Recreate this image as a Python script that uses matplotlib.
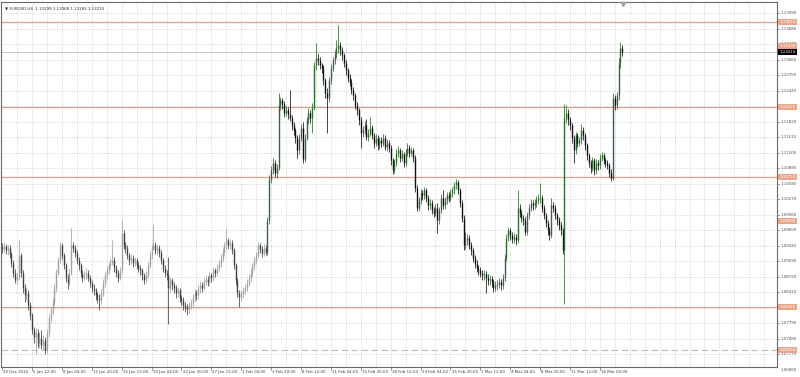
import matplotlib
matplotlib.use("Agg")
import matplotlib.pyplot as plt
from matplotlib.collections import LineCollection
import matplotlib.transforms as mtrans

symbol_title = "EURUSD,H4  1.13299 1.13368 1.13183 1.13210"

opens = [
 1.0932, 1.0928, 1.0933, 1.0926, 1.0930, 1.0918, 1.0900, 1.0880, 1.0866, 1.0872,
 1.0915, 1.0880, 1.0850, 1.0835, 1.0840, 1.0815, 1.0795, 1.0765, 1.0752, 1.0760,
 1.0740, 1.0750, 1.0735, 1.0745, 1.0725, 1.0760, 1.0790, 1.0805, 1.0820, 1.0850,
 1.0880, 1.0905, 1.0935, 1.0915, 1.0895, 1.0870, 1.0860, 1.0880, 1.0935, 1.0930,
 1.0920, 1.0905, 1.0895, 1.0880, 1.0870, 1.0875, 1.0880, 1.0870, 1.0860, 1.0850,
 1.0845, 1.0835, 1.0830, 1.0825, 1.0840, 1.0860, 1.0875, 1.0885, 1.0895, 1.0900,
 1.0905, 1.0890, 1.0880, 1.0870, 1.0885, 1.0960, 1.0935, 1.0930, 1.0915, 1.0905,
 1.0910, 1.0900, 1.0905, 1.0895, 1.0890, 1.0885, 1.0875, 1.0865, 1.0875, 1.0895,
 1.0915, 1.0930, 1.0935, 1.0925, 1.0930, 1.0920, 1.0905, 1.0890, 1.0880, 1.0875,
 1.0850, 1.0865, 1.0855, 1.0850, 1.0840, 1.0845, 1.0830, 1.0825, 1.0815, 1.0812,
 1.0808, 1.0815, 1.0820, 1.0830, 1.0840, 1.0835, 1.0848, 1.0855, 1.0850, 1.0862,
 1.0868, 1.0862, 1.0875, 1.0870, 1.0885, 1.0880, 1.0890, 1.0898, 1.0910, 1.0922,
 1.0935, 1.0945, 1.0935, 1.0940, 1.0925, 1.0895, 1.0865, 1.0840, 1.0832, 1.0838,
 1.0845, 1.0850, 1.0860, 1.0870, 1.0880, 1.0893, 1.0905, 1.0915, 1.0935, 1.0928,
 1.0920, 1.0930, 1.0922, 1.0985, 1.1068, 1.1085, 1.1100, 1.1080, 1.1090, 1.1215,
 1.1225, 1.1218, 1.1200, 1.1205, 1.1198, 1.1190, 1.1175, 1.1165, 1.1150, 1.1125,
 1.1150, 1.1170, 1.1108, 1.1150, 1.1185, 1.1200, 1.1190, 1.1210, 1.1295, 1.1310,
 1.1305, 1.1295, 1.1290, 1.1265, 1.1240, 1.1230, 1.1265, 1.1290, 1.1305, 1.1318,
 1.1330, 1.1335, 1.1325, 1.1315, 1.1300, 1.1285, 1.1270, 1.1262, 1.1245, 1.1235,
 1.1215, 1.1205, 1.1185, 1.1160, 1.1165, 1.1175, 1.1152, 1.1160, 1.1170, 1.1155,
 1.1140, 1.1150, 1.1135, 1.1145, 1.1140, 1.1150, 1.1132, 1.1140, 1.1130, 1.1105,
 1.1085, 1.1100, 1.1120, 1.1125, 1.1110, 1.1118, 1.1100, 1.1120, 1.1130, 1.1120,
 1.1125, 1.1110, 1.1050, 1.1010, 1.1025, 1.1040, 1.1035, 1.1045, 1.1030, 1.1015,
 1.1020, 1.1005, 1.1000, 1.1010, 1.0985, 1.1005, 1.1030, 1.1015, 1.1025, 1.1035,
 1.1030, 1.1040, 1.1045, 1.1055, 1.1062, 1.1045, 1.1020, 1.0990, 1.0935, 1.0945,
 1.0950, 1.0935, 1.0925, 1.0910, 1.0898, 1.0890, 1.0885, 1.0880, 1.0875, 1.0878,
 1.0870, 1.0865, 1.0868, 1.0862, 1.0850, 1.0855, 1.0858, 1.0862, 1.0855, 1.0870,
 1.0910, 1.0950, 1.0965, 1.0955, 1.0948, 1.0952, 1.0945, 1.1010, 1.1000, 1.0990,
 1.0985, 1.0962, 1.0995, 1.1010, 1.1020, 1.1015, 1.1020, 1.1025, 1.1030, 1.1030,
 1.1010, 1.0995, 1.0980, 1.0965, 1.0955, 1.1015, 1.1010, 1.0995, 1.0985, 1.0975,
 1.0965, 1.0925, 1.1190, 1.1200, 1.1185, 1.1175, 1.1150, 1.1125, 1.1155, 1.1140,
 1.1145, 1.1165, 1.1155, 1.1135, 1.1115, 1.1100, 1.1090, 1.1105, 1.1085, 1.1100,
 1.1095, 1.1110, 1.1115, 1.1105, 1.1100, 1.1095, 1.1080, 1.1070, 1.1230, 1.1215,
 1.1235, 1.1300, 1.1330,
]

closes = [
 1.0928, 1.0933, 1.0926, 1.0930, 1.0918, 1.0900, 1.0880, 1.0866, 1.0872, 1.0915,
 1.0880, 1.0850, 1.0835, 1.0840, 1.0815, 1.0795, 1.0765, 1.0752, 1.0760, 1.0740,
 1.0750, 1.0735, 1.0745, 1.0725, 1.0760, 1.0790, 1.0805, 1.0820, 1.0850, 1.0880,
 1.0905, 1.0935, 1.0915, 1.0895, 1.0870, 1.0860, 1.0880, 1.0935, 1.0930, 1.0920,
 1.0905, 1.0895, 1.0880, 1.0870, 1.0875, 1.0880, 1.0870, 1.0860, 1.0850, 1.0845,
 1.0835, 1.0830, 1.0825, 1.0840, 1.0860, 1.0875, 1.0885, 1.0895, 1.0900, 1.0905,
 1.0890, 1.0880, 1.0870, 1.0885, 1.0960, 1.0935, 1.0930, 1.0915, 1.0905, 1.0910,
 1.0900, 1.0905, 1.0895, 1.0890, 1.0885, 1.0875, 1.0865, 1.0875, 1.0895, 1.0915,
 1.0930, 1.0935, 1.0925, 1.0930, 1.0920, 1.0905, 1.0890, 1.0880, 1.0875, 1.0850,
 1.0865, 1.0855, 1.0850, 1.0840, 1.0845, 1.0830, 1.0825, 1.0815, 1.0812, 1.0808,
 1.0815, 1.0820, 1.0830, 1.0840, 1.0835, 1.0848, 1.0855, 1.0850, 1.0862, 1.0868,
 1.0862, 1.0875, 1.0870, 1.0885, 1.0880, 1.0890, 1.0898, 1.0910, 1.0922, 1.0935,
 1.0945, 1.0935, 1.0940, 1.0925, 1.0895, 1.0865, 1.0840, 1.0832, 1.0838, 1.0845,
 1.0850, 1.0860, 1.0870, 1.0880, 1.0893, 1.0905, 1.0915, 1.0935, 1.0928, 1.0920,
 1.0930, 1.0922, 1.0985, 1.1068, 1.1085, 1.1100, 1.1080, 1.1090, 1.1215, 1.1225,
 1.1218, 1.1200, 1.1205, 1.1198, 1.1190, 1.1175, 1.1165, 1.1150, 1.1125, 1.1150,
 1.1170, 1.1108, 1.1150, 1.1185, 1.1200, 1.1190, 1.1210, 1.1295, 1.1310, 1.1305,
 1.1295, 1.1290, 1.1265, 1.1240, 1.1230, 1.1265, 1.1290, 1.1305, 1.1318, 1.1330,
 1.1335, 1.1325, 1.1315, 1.1300, 1.1285, 1.1270, 1.1262, 1.1245, 1.1235, 1.1215,
 1.1205, 1.1185, 1.1160, 1.1165, 1.1175, 1.1152, 1.1160, 1.1170, 1.1155, 1.1140,
 1.1150, 1.1135, 1.1145, 1.1140, 1.1150, 1.1132, 1.1140, 1.1130, 1.1105, 1.1085,
 1.1100, 1.1120, 1.1125, 1.1110, 1.1118, 1.1100, 1.1120, 1.1130, 1.1120, 1.1125,
 1.1110, 1.1050, 1.1010, 1.1025, 1.1040, 1.1035, 1.1045, 1.1030, 1.1015, 1.1020,
 1.1005, 1.1000, 1.1010, 1.0985, 1.1005, 1.1030, 1.1015, 1.1025, 1.1035, 1.1030,
 1.1040, 1.1045, 1.1055, 1.1062, 1.1045, 1.1020, 1.0990, 1.0935, 1.0945, 1.0950,
 1.0935, 1.0925, 1.0910, 1.0898, 1.0890, 1.0885, 1.0880, 1.0875, 1.0878, 1.0870,
 1.0865, 1.0868, 1.0862, 1.0850, 1.0855, 1.0858, 1.0862, 1.0855, 1.0870, 1.0910,
 1.0950, 1.0965, 1.0955, 1.0948, 1.0952, 1.0945, 1.1010, 1.1000, 1.0990, 1.0985,
 1.0962, 1.0995, 1.1010, 1.1020, 1.1015, 1.1020, 1.1025, 1.1030, 1.1030, 1.1010,
 1.0995, 1.0980, 1.0965, 1.0955, 1.1015, 1.1010, 1.0995, 1.0985, 1.0975, 1.0965,
 1.0925, 1.1190, 1.1200, 1.1185, 1.1175, 1.1150, 1.1125, 1.1155, 1.1140, 1.1145,
 1.1165, 1.1155, 1.1135, 1.1115, 1.1100, 1.1090, 1.1105, 1.1085, 1.1100, 1.1095,
 1.1110, 1.1115, 1.1105, 1.1100, 1.1095, 1.1080, 1.1070, 1.1230, 1.1215, 1.1235,
 1.1300, 1.1330, 1.1321,
]

highs = [
 1.0940, 1.0941, 1.0938, 1.0936, 1.0935, 1.0922, 1.0906, 1.0888, 1.0880, 1.0945,
 1.0920, 1.0886, 1.0858, 1.0852, 1.0846, 1.0822, 1.0800, 1.0772, 1.0770, 1.0768,
 1.0762, 1.0765, 1.0755, 1.0752, 1.0768, 1.0798, 1.0812, 1.0830, 1.0858, 1.0888,
 1.0912, 1.0942, 1.0940, 1.0920, 1.0900, 1.0878, 1.0888, 1.0970, 1.0942, 1.0936,
 1.0925, 1.0912, 1.0900, 1.0886, 1.0884, 1.0890, 1.0885, 1.0876, 1.0866, 1.0858,
 1.0850, 1.0842, 1.0838, 1.0848, 1.0868, 1.0882, 1.0894, 1.0902, 1.0910, 1.0945,
 1.0912, 1.0896, 1.0886, 1.0892, 1.0985, 1.0966, 1.0942, 1.0936, 1.0920, 1.0918,
 1.0916, 1.0912, 1.0910, 1.0902, 1.0896, 1.0890, 1.0880, 1.0884, 1.0902, 1.0924,
 1.0938, 1.0978, 1.0942, 1.0938, 1.0935, 1.0926, 1.0910, 1.0896, 1.0886, 1.0912,
 1.0872, 1.0870, 1.0862, 1.0856, 1.0852, 1.0850, 1.0836, 1.0832, 1.0822, 1.0818,
 1.0822, 1.0828, 1.0838, 1.0848, 1.0846, 1.0855, 1.0864, 1.0862, 1.0870, 1.0876,
 1.0874, 1.0882, 1.0880, 1.0892, 1.0890, 1.0898, 1.0906, 1.0918, 1.0930, 1.0942,
 1.0968, 1.0950, 1.0948, 1.0945, 1.0930, 1.0900, 1.0870, 1.0846, 1.0845, 1.0852,
 1.0858, 1.0868, 1.0878, 1.0888, 1.0900, 1.0912, 1.0922, 1.0942, 1.0940, 1.0934,
 1.0938, 1.0936, 1.0992, 1.1075, 1.1094, 1.1110, 1.1106, 1.1098, 1.1240, 1.1232,
 1.1230, 1.1224, 1.1214, 1.1212, 1.1245, 1.1196, 1.1182, 1.1170, 1.1155, 1.1158,
 1.1178, 1.1182, 1.1158, 1.1192, 1.1210, 1.1206, 1.1220, 1.1302, 1.1340, 1.1318,
 1.1312, 1.1300, 1.1295, 1.1270, 1.1250, 1.1272, 1.1298, 1.1312, 1.1326, 1.1345,
 1.1376, 1.1342, 1.1332, 1.1320, 1.1306, 1.1290, 1.1278, 1.1268, 1.1252, 1.1240,
 1.1222, 1.1210, 1.1192, 1.1174, 1.1184, 1.1188, 1.1168, 1.1192, 1.1176, 1.1160,
 1.1158, 1.1156, 1.1152, 1.1152, 1.1158, 1.1155, 1.1148, 1.1146, 1.1135, 1.1110,
 1.1108, 1.1128, 1.1134, 1.1130, 1.1126, 1.1122, 1.1128, 1.1140, 1.1135, 1.1132,
 1.1130, 1.1115, 1.1055, 1.1032, 1.1048, 1.1046, 1.1052, 1.1050, 1.1036, 1.1028,
 1.1026, 1.1012, 1.1018, 1.1020, 1.1012, 1.1038, 1.1045, 1.1032, 1.1042, 1.1042,
 1.1048, 1.1052, 1.1062, 1.1068, 1.1066, 1.1050, 1.1026, 1.0995, 1.0962, 1.0958,
 1.0955, 1.0942, 1.0930, 1.0916, 1.0905, 1.0896, 1.0892, 1.0886, 1.0886, 1.0884,
 1.0878, 1.0876, 1.0874, 1.0868, 1.0864, 1.0866, 1.0870, 1.0868, 1.0878, 1.0918,
 1.0958, 1.0972, 1.0970, 1.0962, 1.0960, 1.0958, 1.1045, 1.1018, 1.1006, 1.0996,
 1.0992, 1.1002, 1.1018, 1.1028, 1.1026, 1.1028, 1.1034, 1.1038, 1.1060, 1.1036,
 1.1016, 1.1000, 1.0986, 1.0972, 1.1030, 1.1022, 1.1016, 1.1000, 1.0992, 1.0982,
 1.0970, 1.1218, 1.1215, 1.1208, 1.1192, 1.1180, 1.1156, 1.1162, 1.1160, 1.1152,
 1.1178, 1.1172, 1.1160, 1.1140, 1.1120, 1.1106, 1.1112, 1.1110, 1.1108, 1.1106,
 1.1118, 1.1122, 1.1120, 1.1110, 1.1106, 1.1100, 1.1088, 1.1240, 1.1236, 1.1242,
 1.1310, 1.1342, 1.1336,
]

lows = [
 1.0920, 1.0922, 1.0918, 1.0915, 1.0910, 1.0892, 1.0872, 1.0860, 1.0858, 1.0865,
 1.0872, 1.0840, 1.0822, 1.0826, 1.0805, 1.0785, 1.0758, 1.0740, 1.0718, 1.0730,
 1.0732, 1.0728, 1.0725, 1.0717, 1.0720, 1.0752, 1.0782, 1.0798, 1.0815, 1.0842,
 1.0875, 1.0900, 1.0908, 1.0888, 1.0862, 1.0848, 1.0855, 1.0875, 1.0922, 1.0912,
 1.0898, 1.0886, 1.0872, 1.0862, 1.0865, 1.0868, 1.0864, 1.0852, 1.0842, 1.0836,
 1.0826, 1.0820, 1.0805, 1.0818, 1.0834, 1.0852, 1.0868, 1.0878, 1.0888, 1.0895,
 1.0882, 1.0872, 1.0862, 1.0865, 1.0880, 1.0928, 1.0920, 1.0908, 1.0896, 1.0898,
 1.0892, 1.0894, 1.0888, 1.0882, 1.0876, 1.0866, 1.0858, 1.0860, 1.0870, 1.0890,
 1.0908, 1.0925, 1.0918, 1.0916, 1.0912, 1.0898, 1.0882, 1.0872, 1.0866, 1.0778,
 1.0842, 1.0846, 1.0840, 1.0830, 1.0832, 1.0822, 1.0815, 1.0806, 1.0802, 1.0795,
 1.0800, 1.0808, 1.0814, 1.0824, 1.0826, 1.0828, 1.0840, 1.0842, 1.0845, 1.0855,
 1.0854, 1.0856, 1.0862, 1.0864, 1.0872, 1.0874, 1.0884, 1.0892, 1.0904, 1.0916,
 1.0928, 1.0928, 1.0928, 1.0918, 1.0888, 1.0856, 1.0832, 1.0811, 1.0824, 1.0830,
 1.0838, 1.0844, 1.0854, 1.0864, 1.0874, 1.0886, 1.0898, 1.0910, 1.0920, 1.0912,
 1.0914, 1.0915, 1.0915, 1.0978, 1.1060, 1.1078, 1.1072, 1.1070, 1.1085, 1.1205,
 1.1208, 1.1192, 1.1194, 1.1188, 1.1184, 1.1166, 1.1156, 1.1140, 1.1110, 1.1118,
 1.1144, 1.1100, 1.1102, 1.1145, 1.1178, 1.1180, 1.1160, 1.1205, 1.1285, 1.1296,
 1.1288, 1.1280, 1.1256, 1.1230, 1.1160, 1.1222, 1.1258, 1.1284, 1.1298, 1.1310,
 1.1320, 1.1316, 1.1306, 1.1292, 1.1276, 1.1262, 1.1254, 1.1238, 1.1226, 1.1208,
 1.1196, 1.1176, 1.1130, 1.1152, 1.1158, 1.1146, 1.1144, 1.1154, 1.1148, 1.1130,
 1.1134, 1.1126, 1.1128, 1.1132, 1.1134, 1.1126, 1.1124, 1.1122, 1.1096, 1.1078,
 1.1080, 1.1094, 1.1112, 1.1102, 1.1104, 1.1092, 1.1094, 1.1114, 1.1112, 1.1114,
 1.1102, 1.1042, 1.1004, 1.1004, 1.1018, 1.1026, 1.1028, 1.1022, 1.1006, 1.1008,
 1.0998, 1.0992, 1.0994, 1.0960, 1.0978, 1.1000, 1.1008, 1.1008, 1.1018, 1.1022,
 1.1024, 1.1032, 1.1038, 1.1048, 1.1038, 1.1012, 1.0982, 1.0925, 1.0928, 1.0936,
 1.0928, 1.0915, 1.0902, 1.0890, 1.0882, 1.0876, 1.0872, 1.0866, 1.0866, 1.0840,
 1.0856, 1.0856, 1.0852, 1.0842, 1.0844, 1.0846, 1.0850, 1.0846, 1.0848, 1.0864,
 1.0904, 1.0944, 1.0946, 1.0940, 1.0940, 1.0936, 1.0940, 1.0992, 1.0982, 1.0976,
 1.0955, 1.0956, 1.0988, 1.1004, 1.1006, 1.1008, 1.1012, 1.1018, 1.1020, 1.1002,
 1.0988, 1.0972, 1.0956, 1.0946, 1.0950, 1.1002, 1.0988, 1.0976, 1.0966, 1.0956,
 1.0918, 1.0818, 1.1180, 1.1176, 1.1166, 1.1140, 1.1100, 1.1118, 1.1132, 1.1134,
 1.1138, 1.1146, 1.1126, 1.1106, 1.1092, 1.1080, 1.1084, 1.1076, 1.1078, 1.1086,
 1.1088, 1.1104, 1.1098, 1.1092, 1.1088, 1.1072, 1.1064, 1.1066, 1.1206, 1.1208,
 1.1225, 1.1290, 1.1314,
]

date_labels = ["30 Dec 2015", "5 Jan 12:00", "8 Jan 04:00", "12 Jan 20:00", "15 Jan 12:00",
               "20 Jan 04:00", "22 Jan 20:00", "27 Jan 12:00", "1 Feb 04:00", "3 Feb 20:00",
               "8 Feb 12:00", "11 Feb 04:00", "15 Feb 20:00", "18 Feb 12:00", "23 Feb 04:00",
               "25 Feb 20:00", "1 Mar 12:00", "4 Mar 04:00", "8 Mar 20:00", "11 Mar 12:00",
               "16 Mar 04:00"]
bars_per_label = 16

price_ticks = [1.13990, 1.13680, 1.13370, 1.13060, 1.12750, 1.12440, 1.12130, 1.11820,
               1.11510, 1.11200, 1.10890, 1.10580, 1.10270, 1.09960, 1.09650, 1.09340,
               1.09030, 1.08720, 1.08410, 1.08100, 1.07790, 1.07480, 1.07170, 1.06860]

level_lines = [1.13810, 1.12110, 1.10710, 1.08110]
level_dashed = [1.07250]
level_label_only = [1.13330, 1.09830]
bid_price = 1.13210

# ---------------------------------------------------------------
W, H = 800, 377
fig = plt.figure(figsize=(W / 100, H / 100), dpi=100)
fig.patch.set_facecolor("white")
ax_l, ax_r, ax_t, ax_b = 1, 777, 2, 367
ax = fig.add_axes([ax_l / W, 1 - ax_b / H, (ax_r - ax_l) / W, (ax_b - ax_t) / H])
ax.set_facecolor("white")

n = len(closes)
xmin, xmax = -0.6, -0.6 + (ax_r - ax_l) / 1.868
ax.set_xlim(xmin, xmax)
ymax = 1.1425 - 0.0002 * ax_t
ymin = 1.1425 - 0.0002 * ax_b
ax.set_ylim(ymin, ymax)

grid_c = "#c4c4c4"
for p in price_ticks:
    if ymin < p < ymax:
        ax.axhline(p, color=grid_c, lw=0.5, ls=(0, (1.5, 2.0)), zorder=1)
half = bars_per_label // 2
k = half
while k < xmax:
    ax.axvline(k, color=grid_c, lw=0.5, ls=(0, (1.5, 2.0)), zorder=1)
    k += half

orange = "#d9a48c"
for p in level_lines:
    ax.axhline(p, color=orange, lw=0.9, zorder=2)
for p in level_dashed:
    ax.axhline(p, color="#c8b8b0", lw=0.8, ls=(0, (6, 3)), zorder=2)
ax.axhline(bid_price, color="#c8c8c8", lw=0.7, zorder=2)

split = 142
wick_segs, wick_cols, body_segs, body_cols = [], [], [], []
for i in range(n):
    o, h, l, c = opens[i], highs[i], lows[i], closes[i]
    bull = c >= o
    if i < split:
        col = "#a0a0a0" if bull else "#404040"
    else:
        col = "#2f6a2f" if bull else "#101010"
    wick_segs.append([(i, l), (i, h)])
    wick_cols.append(col)
    top, bot = max(o, c), min(o, c)
    if top - bot < 0.0002:
        top += 0.0001
        bot -= 0.0001
    body_segs.append([(i, bot), (i, top)])
    body_cols.append(col)
ax.add_collection(LineCollection(wick_segs, colors=wick_cols, linewidths=0.55, zorder=3))
ax.add_collection(LineCollection(body_segs, colors=body_cols, linewidths=1.0,
                                 zorder=4, capstyle="butt"))

for s in ax.spines.values():
    s.set_color("#6a6a6a")
    s.set_linewidth(0.8)
ax.set_xticks([])
ax.set_yticks([])

tr = mtrans.blended_transform_factory(ax.transAxes, ax.transData)
fs = 2.9
for p in price_ticks:
    ax.annotate(f"{p:.5f}", xy=(1.0, p), xycoords=tr, xytext=(2.6, 0),
                textcoords="offset points", fontsize=fs, color="#505050",
                va="center", ha="left", annotation_clip=False)
    if ymin < p < ymax:
        ax.plot([1.0, 1.003], [p, p], transform=tr, color="#6a6a6a", lw=0.5,
                clip_on=False)


def boxed(p, fc, tc):
    ax.annotate(f"{p:.5f}", xy=(1.0, p), xycoords=tr, xytext=(2.0, 0),
                textcoords="offset points", fontsize=fs, color=tc,
                va="center", ha="left", annotation_clip=False, zorder=10,
                bbox=dict(boxstyle="square,pad=0.35", fc=fc, ec="none"))


for p in level_lines + level_dashed + level_label_only:
    boxed(p, "#e8a68c", "white")
boxed(bid_price, "black", "white")

trx = mtrans.blended_transform_factory(ax.transData, ax.transAxes)
for j, lab in enumerate(date_labels):
    xb = j * bars_per_label
    ax.annotate(lab, xy=(xb, 0), xycoords=trx, xytext=(0.8, -2.2),
                textcoords="offset points", fontsize=fs, color="#404040",
                va="top", ha="left", annotation_clip=False)
    ax.plot([xb, xb], [0, -0.008], transform=trx, color="#6a6a6a", lw=0.5,
            clip_on=False)

ax.text(0.005, 0.988, "\u25bc " + symbol_title, transform=ax.transAxes,
        fontsize=fs, color="#303030", va="top", ha="left")
ax.plot([n - 1 + 0.5], [ymax - 0.0003], marker="v", ms=3.0, color="#a0a0a0",
        clip_on=False, zorder=6)

fig.savefig("out.png", dpi=100, facecolor="white")
